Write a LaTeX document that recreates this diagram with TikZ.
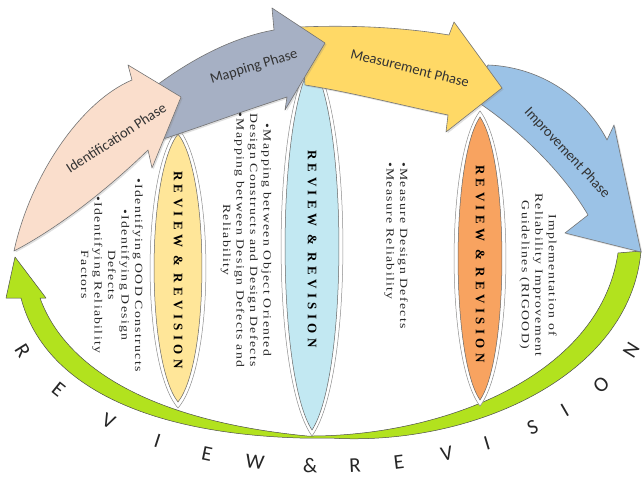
\documentclass[tikz,border=0pt]{standalone}
\usepackage{fontspec}
\setmainfont{Liberation Serif}
\newfontfamily\phasefont{Carlito}
\newfontfamily\loopfont{Carlito}
\newfontfamily\blockfont{Liberation Serif}[FakeStretch=1.25,LetterSpace=12]
\newfontfamily\lensfont{Liberation Serif}[LetterSpace=34]
\usetikzlibrary{positioning, shadows}

\definecolor{peach}{RGB}{250,222,204}
\definecolor{slate}{RGB}{166,176,196}
\definecolor{gold}{RGB}{255,217,102}
\definecolor{sky}{RGB}{155,194,230}
\definecolor{lime}{RGB}{178,226,30}
\definecolor{lensyellow}{RGB}{255,230,153}
\definecolor{lensblue}{RGB}{194,232,242}
\definecolor{lensorange}{RGB}{248,163,96}

\tikzset{
  phase/.style={fill=#1, draw=black!55, line width=0.6pt, line join=round,
    drop shadow={opacity=0.25, shadow xshift=1.5pt, shadow yshift=-1.5pt}},
  phaselabel/.style={font=\phasefont\fontsize{14.5}{16}\selectfont, text=black!80, inner sep=0pt},
  lensrim/.style={fill=white, draw=black!45, line width=0.5pt},
  lensbody/.style={fill=#1, draw=black!60, line width=0.5pt},
  lenslabel/.style={font=\lensfont\bfseries\fontsize{13}{15}\selectfont, rotate=-90, inner sep=0pt},
  block/.style={font=\blockfont\fontsize{11}{13.5}\selectfont, rotate=-90, align=#1, text=black!85, inner sep=0pt},
  loopletter/.style={font=\loopfont\fontsize{21}{21}\selectfont, text=black!85, inner sep=0pt}
}

% lens: centre x, top, bottom, half width, style
\newcommand{\lens}[5]{%
  \filldraw[#5] (#1,#2) .. controls ({#1+1.33*#4},{#2-0.15*(#2-#3)}) and ({#1+1.33*#4},{#3+0.15*(#2-#3)}) .. (#1,#3)
    .. controls ({#1-1.33*#4},{#3+0.15*(#2-#3)}) and ({#1-1.33*#4},{#2-0.15*(#2-#3)}) .. (#1,#2) -- cycle;}

\begin{document}
\begin{tikzpicture}[x=1pt, y=1pt]
    \useasboundingbox (0,0) rectangle (642,477);

    % review & revision loop
    \filldraw[fill=lime, draw=black!70, line width=0.5pt, line join=round]
        (15,220) -- (46,179) -- (40,179)
        .. controls (62,118) and (135,58) .. (307,41)
        .. controls (440,40) and (600,100) .. (618,224)
        -- (641,226)
        .. controls (630,100) and (470,30) .. (330,39)
        -- (300,39)
        .. controls (135,44) and (42,98) .. (21,179)
        -- (6,179) -- cycle;

    % lenses
    \lens{178}{349}{69}{28}{lensrim}
    \lens{178}{343}{75}{24}{lensbody=lensyellow}
    \lens{312}{420}{41}{31}{lensrim}
    \lens{312}{414}{47}{27}{lensbody=lensblue}
    \lens{480}{366}{71}{26}{lensrim}
    \lens{480}{360}{77}{22}{lensbody=lensorange}

    % phases
    \filldraw[phase=sky] (488,412) .. controls (540,410) and (585,380) .. (607,337)
        -- (614,352) -- (641,225) -- (565,244) -- (588,262)
        .. controls (560,310) and (510,355) .. (470,380) -- cycle;
    \filldraw[phase=gold] (300,450) .. controls (350,452) and (400,450) .. (449,442)
        -- (454,455) -- (502,389) -- (446,345) -- (448,362)
        .. controls (400,372) and (350,385) .. (305,392) -- cycle;
    \filldraw[phase=slate] (157,392) .. controls (195,420) and (235,440) .. (274,447)
        -- (272,469) -- (325,434) -- (285,367) -- (287,380)
        .. controls (240,365) and (195,348) .. (160,337) -- cycle;
    \filldraw[phase=peach] (14,226) .. controls (30,300) and (80,375) .. (132,397)
        -- (128,412) -- (181,380) -- (152,309) -- (148,327)
        .. controls (110,290) and (60,250) .. (14,226) -- cycle;

    \node[phaselabel, rotate=33] (ident) at (116,339) {Identification Phase};
    \node[phaselabel, rotate=17] (mapping) at (254,410) {Mapping Phase};
    \node[phaselabel, rotate=-14] (measure) at (410,409) {Measurement Phase};
    \node[phaselabel, rotate=-47] (improve) at (567,324) {Improvement Phase};

    % lens labels
    \node[lenslabel] (revA) at (178,207) {REVIEW \& REVISION};
    \node[lenslabel] (revB) at (312,228) {REVIEW \& REVISION};
    \node[lenslabel] (revC) at (480,213) {REVIEW \& REVISION};

    % phase contents
    \node[block=center] (identtext) at (112,202)
        {•Identifying OOD Constructs\\ •Identifying Design\\ Defects\\ •Identifying Reliability\\ Factors};
    \node[block=center] (maptext) at (246,237)
        {•Mapping between Object Oriented\\ Design Constructs and Design Defects\\ •Mapping between Design Defects and\\ Reliability};
    \node[block=left, anchor=west] (meastext) at (396,315)
        {•Measure Design Defects\\ •Measure Reliability};
    \node[block=center] (imptext) at (538,202)
        {Implementation of\\ Reliability Improvement\\ Guidelines (RIGOOD)};

    % letters round the loop
    \foreach \ch/\t [count=\i] in {R/198,E/213,V/227,I/238,E/248,W/257,\&/267,R/275,E/283,V/292,I/300,S/310,I/318,O/329,N/342} {
        \pgfmathsetmacro\ang{atan2(167*cos(\t),-320*sin(\t))}
        \node[loopletter, rotate=\ang] (let\i) at ({327+320*cos(\t)},{178+167*sin(\t)}) {\ch};
    }
\end{tikzpicture}
\end{document}
